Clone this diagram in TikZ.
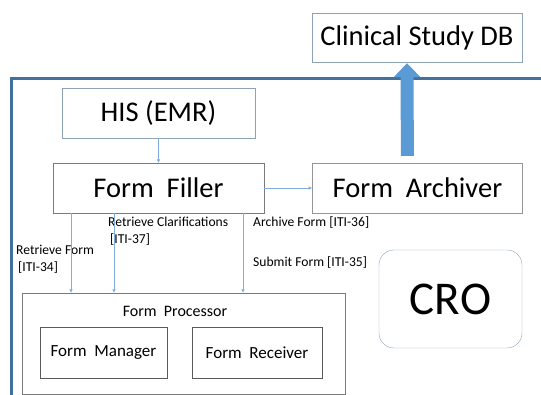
\documentclass[tikz,border=0pt]{standalone}
\usepackage{fontspec}
\setmainfont{Carlito}
\usepackage{xcolor}
\usetikzlibrary{arrows.meta,positioning}
\definecolor{ihebox}{HTML}{8EA2B6}
\definecolor{ihegray}{HTML}{7A7A7A}
\definecolor{ihedark}{HTML}{5A5A5A}
\definecolor{ihelink}{HTML}{7FAEDB}
\definecolor{iheblue}{HTML}{5B9BD5}
\definecolor{iheframe}{HTML}{41719C}
\definecolor{ihecro}{HTML}{8FA8C2}

\begin{document}
\begin{tikzpicture}[
  x=1pt, y=-1pt,
  box/.style={draw=ihebox, fill=white, align=center, inner sep=0pt,
              font=\fontsize{28.5}{32}\selectfont},
  actor/.style={box, draw=ihegray},
  inner/.style={box, draw=ihedark, font=\fontsize{17}{20}\selectfont},
  arrow/.style={-{Latex[length=3.5pt,width=3.5pt]}, line width=0.6pt, draw=ihelink},
  big/.style={-{Triangle[length=14pt,width=26pt]}, line width=13pt, draw=iheblue},
  txn/.style={anchor=west, align=left, inner sep=0pt,
              font=\fontsize{13.6}{16.5}\selectfont}
]
  \useasboundingbox (0,0) rectangle (541,395);

  \node[box, minimum width=210pt, minimum height=49pt] (db) at (417,37.5) {Clinical Study DB};
  \draw[line width=3pt, draw=iheframe] (11,396) |- (545,79);

  \node[box, minimum width=193pt, minimum height=50pt] (his) at (158.5,113) {HIS (EMR)};
  \node[actor, minimum width=211pt, minimum height=50pt] (filler) at (158.5,188) {Form\ \ Filler};
  \node[box, draw=ihegray!80, right=48pt of filler, minimum width=210pt, minimum height=50pt] (archiver) {Form\ \ Archiver};
  \node[box, draw=ihegray, minimum width=323pt, minimum height=101pt] (processor) at (183.5,343.5) {};
  \node[font=\fontsize{16}{19}\selectfont, inner sep=0pt] (proclabel) at (175,311) {Form\ \ Processor};
  \node[inner, minimum width=127pt, minimum height=51pt] (manager) at (103.5,352.5) {Form\ \ Manager};
  \node[inner, minimum width=130pt, minimum height=51pt] (receiver) at (257,352.5) {Form\ \ Receiver};
  \node[box, draw=ihecro, rounded corners=15pt, minimum width=143pt, minimum height=98pt,
        font=\fontsize{47}{50}\selectfont] (cro) at (450.5,299) {CRO};

  \node[txn] (t34) at (16,259) {Retrieve Form\\\hspace{2pt}[ITI-34]};
  \node[txn] (t37) at (108,231) {Retrieve Clarifications\\\hspace{2pt}[ITI-37]};
  \node[txn] (t36) at (253,223) {Archive Form [ITI-36]};
  \node[txn] (t35) at (253,263) {Submit Form [ITI-35]};

  \draw[big] ([xshift=-10pt,yshift=7pt]archiver.north) -- ([xshift=-10pt,yshift=-1pt]db.south);
  \draw[arrow] (his) -- (filler);
  \draw[arrow] (filler) -- (archiver);
  \draw[arrow] ([xshift=-87.5pt]filler.south) -- ([xshift=-87.5pt]filler.south |- processor.north);
  \draw[arrow] ([xshift=-44.5pt]filler.south) -- ([xshift=-44.5pt]filler.south |- processor.north);
  \draw[arrow] ([xshift=84.5pt]filler.south) -- ([xshift=84.5pt]filler.south |- processor.north);
\end{tikzpicture}
\end{document}
